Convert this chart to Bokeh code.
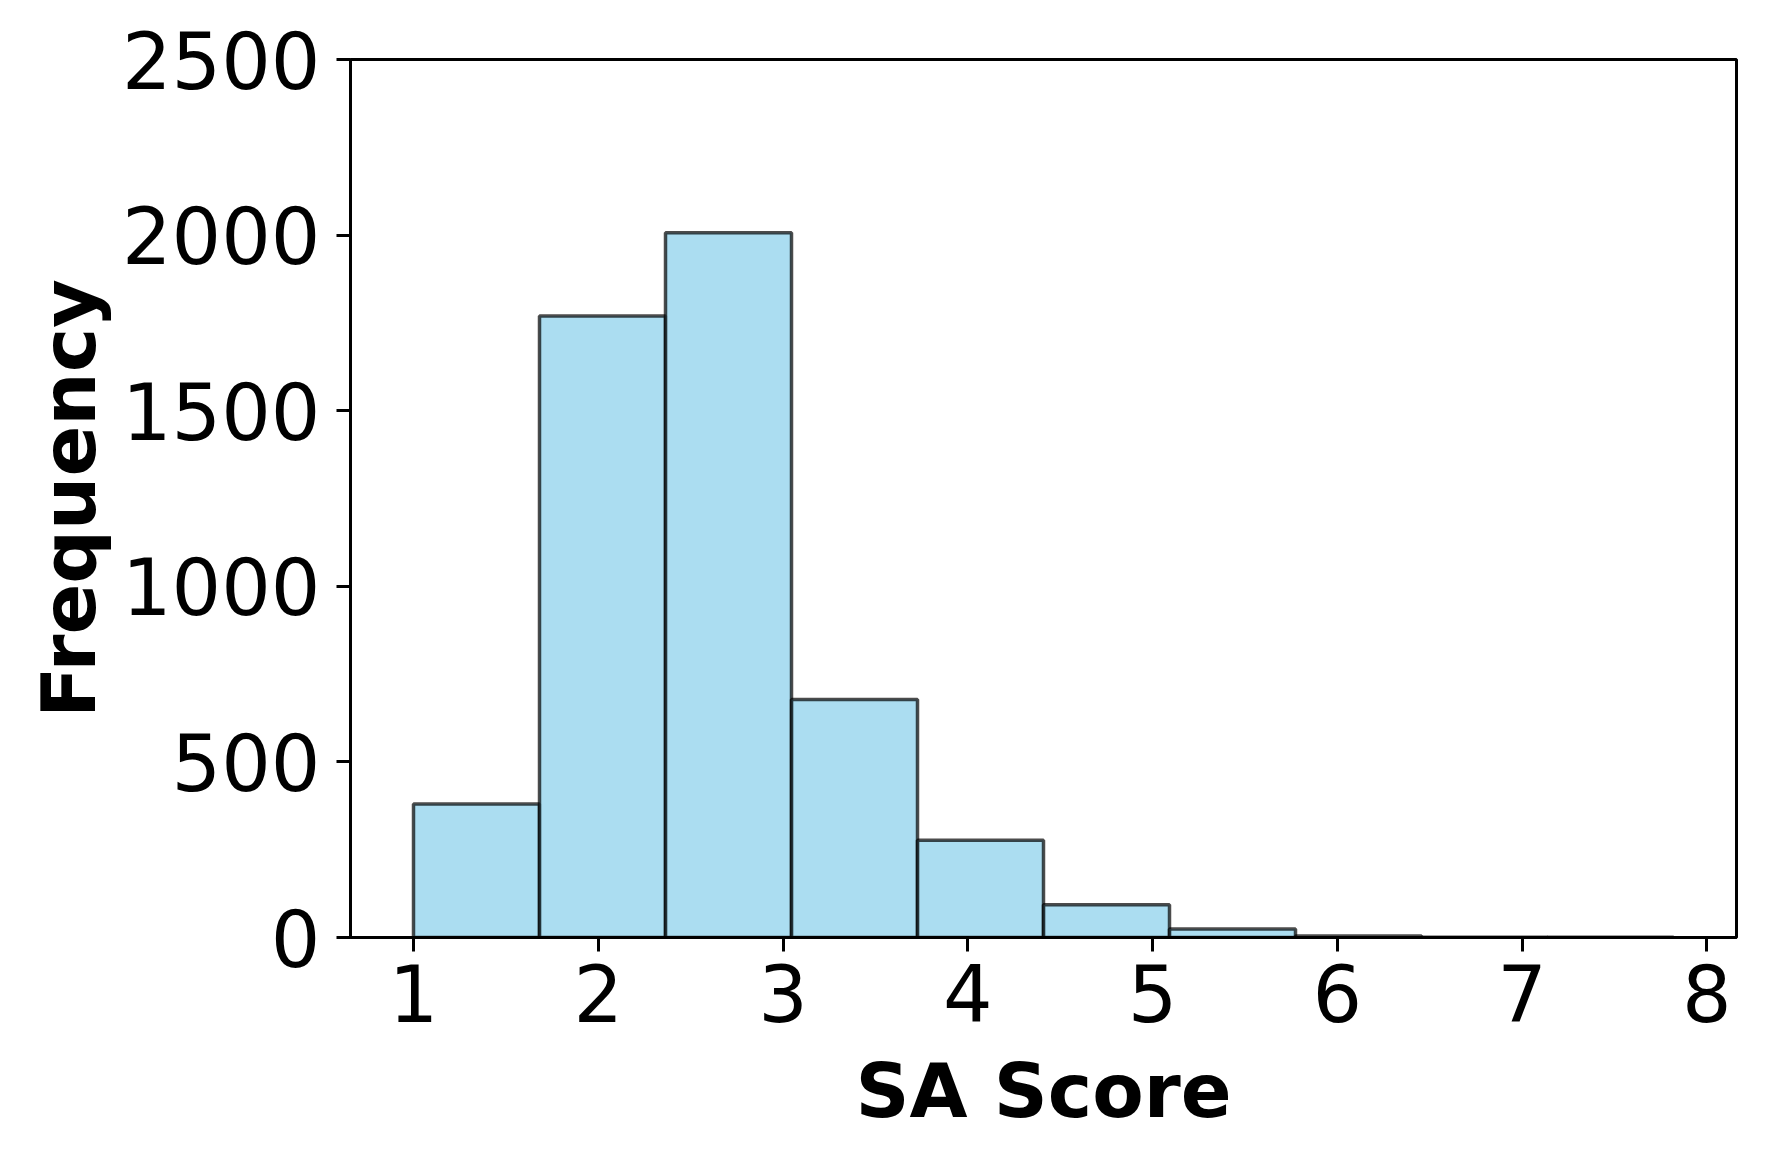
from bokeh.plotting import figure
from bokeh.models import Range1d, FixedTicker
from bokeh.embed import file_html
from bokeh.resources import INLINE

# Histogram data
bin_edges = [1.00, 1.682, 2.364, 3.046, 3.728, 4.41, 5.092, 5.774, 6.456, 7.138, 7.82]
counts = [380, 1770, 2007, 678, 277, 93, 24, 4, 1, 1]
x_ticks = [1, 2, 3, 4, 5, 6, 7, 8]
y_ticks = [0, 500, 1000, 1500, 2000, 2500]
x_label = "SA Score"
y_label = "Frequency"

span = bin_edges[-1] - bin_edges[0]
x_lo = bin_edges[0] - 0.05 * span
x_hi = bin_edges[-1] + 0.05 * span

p = figure(width=1751, height=1147, output_backend="svg", toolbar_location=None,
           x_range=Range1d(x_lo, x_hi), y_range=Range1d(0, 2500),
           min_border_left=350, min_border_right=15, min_border_top=59, min_border_bottom=210)
p.frame_width = 1386
p.frame_height = 878

p.quad(left=bin_edges[:-1], right=bin_edges[1:], bottom=0, top=counts,
       fill_color="#87CEEB", fill_alpha=0.7, line_color="black", line_alpha=0.7, line_width=3.5)

p.grid.visible = False
p.outline_line_color = "black"
p.outline_line_width = 3
p.outline_line_alpha = 1

for ax in (p.xaxis[0], p.yaxis[0]):
    ax.axis_line_color = "black"
    ax.axis_line_width = 3
    ax.major_tick_line_width = 3
    ax.major_tick_out = 14
    ax.major_tick_in = 0
    ax.minor_tick_line_color = None
    ax.major_label_text_font = "DejaVu Sans"
    ax.major_label_text_font_size = "78px"
    ax.major_label_text_color = "black"
    ax.axis_label_text_font = "DejaVu Sans"
    ax.axis_label_text_font_size = "75px"
    ax.axis_label_text_font_style = "bold"
    ax.axis_label_text_color = "black"

p.xaxis.ticker = FixedTicker(ticks=x_ticks)
p.yaxis.ticker = FixedTicker(ticks=y_ticks)
p.xaxis.axis_label = x_label
p.yaxis.axis_label = y_label
p.xaxis.major_label_standoff = 12
p.yaxis.major_label_standoff = 16
p.xaxis.axis_label_standoff = 22
p.yaxis.axis_label_standoff = 6

open("out.html", "w").write(file_html(p, INLINE))
